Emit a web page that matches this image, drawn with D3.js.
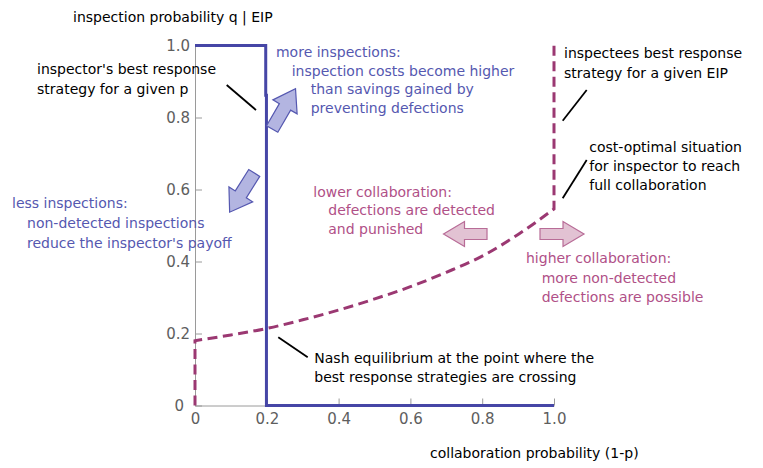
<!DOCTYPE html>
<html>
<head>
<meta charset="utf-8">
<script src="https://cdn.jsdelivr.net/npm/d3@7"></script>
<style>
  body { margin: 0; background: #fff; }
  svg { display: block; }
  text { font-family: "DejaVu Sans", sans-serif; }
</style>
</head>
<body>
<svg id="chart" width="763" height="468"></svg>
<script>
// Axis ticks
const xTicks = [0, 0.2, 0.4, 0.6, 0.8, 1.0];
const xTickLabels = ["0", "0.2", "0.4", "0.6", "0.8", "1.0"];
const yTicks = [0, 0.2, 0.4, 0.6, 0.8, 1.0];
const yTickLabels = ["0", "0.2", "0.4", "0.6", "0.8", "1.0"];
const minorTicks = [0.05, 0.1, 0.15, 0.25, 0.3, 0.35, 0.45, 0.5, 0.55, 0.65, 0.7, 0.75, 0.85, 0.9, 0.95];

// Inspector's best response (step function)
const inspectorP = [0, 0.197, 0.197, 0.199, 0.199, 1];
const inspectorQ = [1, 1, 0.862, 0.862, 0, 0];

// Inspectee's best response: vertical at p=0, rising curve, vertical at p=1
const inspecteeP = [0, 0, 0.1, 0.2, 0.3, 0.4, 0.5, 0.6, 0.7, 0.8, 0.9, 1, 1];
const inspecteeQ = [0, 0.18, 0.196, 0.214, 0.238, 0.265, 0.296, 0.330, 0.370, 0.415, 0.475, 0.546, 1];

const xTitle = "collaboration probability (1-p)";
const yTitle = "inspection probability q | EIP";

const blueLine = "#4646a6", magentaLine = "#9b3872";
const blueText = "#5558b0", pinkText = "#b05087", black = "#000";

const svg = d3.select("#chart");
const x = d3.scaleLinear().domain([0, 1]).range([195, 554]);
const y = d3.scaleLinear().domain([0, 1]).range([405.5, 45.5]);

// ---- axes ----
const axisColor = "#9a9a9a", labelColor = "#5e5e5e";
const gx = svg.append("g").attr("transform", `translate(0,${y(0)})`);
gx.call(d3.axisBottom(x).tickValues(minorTicks).tickSize(-4).tickSizeOuter(0).tickFormat(""));
gx.call(d3.axisBottom(x).tickValues(xTicks).tickSize(-7).tickSizeOuter(0).tickPadding(8)
  .tickFormat((d, i) => xTickLabels[i]));
const gy = svg.append("g").attr("transform", `translate(${x(0)},0)`);
gy.call(d3.axisLeft(y).tickValues(minorTicks).tickSize(-4).tickSizeOuter(0).tickFormat(""));
gy.call(d3.axisLeft(y).tickValues(yTicks).tickSize(-7).tickSizeOuter(0).tickPadding(5)
  .tickFormat((d, i) => yTickLabels[i]));
gy.selectAll(".tick").filter(d => d === 0).select("text").attr("x", -11);
[gx, gy].forEach(g => {
  g.selectAll("path.domain").attr("stroke", axisColor);
  g.selectAll(".tick line").attr("stroke", axisColor);
  g.selectAll(".tick text").attr("fill", labelColor).style("font-size", "15px")
    .style("font-family", "DejaVu Sans, sans-serif");
});

svg.append("text").attr("x", 73).attr("y", 22).attr("fill", black)
  .style("font-size", "14px").text(yTitle);
svg.append("text").attr("x", 430).attr("y", 458).attr("fill", black)
  .style("font-size", "14px").text(xTitle);

// ---- best response curves ----
const inspectorPts = inspectorP.map((p, i) => [p, inspectorQ[i]]);
svg.append("path")
  .attr("d", d3.line().x(d => x(d[0])).y(d => y(d[1]))(inspectorPts))
  .attr("fill", "none").attr("stroke", blueLine).attr("stroke-width", 3);

const n = inspecteeP.length;
const pts = inspecteeP.map((p, i) => [p, inspecteeQ[i]]);
const smooth = d3.line().x(d => x(d[0])).y(d => y(d[1])).curve(d3.curveMonotoneX)(pts.slice(1, n - 1));
const dPath = `M${x(pts[0][0])},${y(pts[0][1])}L` + smooth.slice(1) +
  `L${x(pts[n - 1][0])},${y(pts[n - 1][1])}`;
svg.append("path").attr("d", dPath)
  .attr("fill", "none").attr("stroke", magentaLine).attr("stroke-width", 3)
  .attr("stroke-dasharray", "10,5.5");

// ---- block arrows ----
function arrow(tail, tip, fill, stroke, w, h, L) {
  const x0 = x(tail[0]), y0 = y(tail[1]), x1 = x(tip[0]), y1 = y(tip[1]);
  const len = Math.hypot(x1 - x0, y1 - y0);
  const ux = (x1 - x0) / len, uy = (y1 - y0) / len, nx = -uy, ny = ux;
  const bx = x1 - ux * L, by = y1 - uy * L;
  const poly = [
    [x0 + nx * w, y0 + ny * w], [bx + nx * w, by + ny * w], [bx + nx * h, by + ny * h],
    [x1, y1],
    [bx - nx * h, by - ny * h], [bx - nx * w, by - ny * w], [x0 - nx * w, y0 - ny * w]
  ];
  svg.append("polygon").attr("points", poly.map(p => p.join(",")).join(" "))
    .attr("fill", fill).attr("stroke", stroke).attr("stroke-width", 1.2);
}
arrow([0.2150, 0.7680], [0.2800, 0.8800], "#b3b5e1", "#5558b0", 6.5, 14, 21);
arrow([0.1650, 0.6460], [0.0965, 0.5370], "#b3b5e1", "#5558b0", 6.5, 14, 21);
arrow([0.8134, 0.4764], [0.6922, 0.4764], "#e2c2d3", "#b86c97", 5.5, 12.5, 21);
arrow([0.9610, 0.4764], [1.0836, 0.4764], "#e2c2d3", "#b86c97", 5.5, 12.5, 21);

// ---- leader lines ----
const leaders = [
  [[0.0883, 0.8903], [0.1699, 0.8208]],
  [[1.0911, 0.8764], [1.0242, 0.7911]],
  [[1.0911, 0.6819], [1.0242, 0.5756]],
  [[0.2320, 0.1894], [0.3139, 0.1339]]
];
leaders.forEach(([a, b]) => {
  svg.append("line").attr("x1", x(a[0])).attr("y1", y(a[1]))
    .attr("x2", x(b[0])).attr("y2", y(b[1]))
    .attr("stroke", black).attr("stroke-width", 1.8);
});

// ---- annotation text blocks ----
const notes = [
  { p: -0.440, q: 0.9208, color: black, gap: 19.5, indent: [0, 0],
    lines: ["inspector's best response", "strategy for a given p"] },
  { p: 0.2256, q: 0.9689, color: blueText, gap: 18.9, indent: [0, 15.7, 34.7, 34.7],
    lines: ["more inspections:", "inspection costs become higher", "than savings gained by", "preventing defections"] },
  { p: -0.5097, q: 0.5478, color: blueText, gap: 20, indent: [0, 15, 15],
    lines: ["less inspections:", "non-detected inspections", "reduce the inspector's payoff"] },
  { p: 1.0279, q: 0.9644, color: black, gap: 20, indent: [0, 0],
    lines: ["inspectees best response", "strategy for a given EIP"] },
  { p: 1.0983, q: 0.7042, color: black, gap: 18.8, indent: [0, 0, 0],
    lines: ["cost-optimal situation", "for inspector to reach", "full collaboration"] },
  { p: 0.3295, q: 0.58, color: pinkText, gap: 18.7, indent: [0, 15, 15],
    lines: ["lower collaboration:", "defections are detected", "and punished"] },
  { p: 0.922, q: 0.395, color: pinkText, gap: 19.2, indent: [0, 15.7, 15.7],
    lines: ["higher collaboration:", "more non-detected", "defections are possible"] },
  { p: 0.3323, q: 0.1189, color: black, gap: 19, indent: [0, 0],
    lines: ["Nash equilibrium at the point where the", "best response strategies are crossing"] }
];
notes.forEach(nt => {
  const t = svg.append("text").attr("fill", nt.color).style("font-size", "14px");
  nt.lines.forEach((ln, i) => {
    t.append("tspan").attr("x", x(nt.p) + nt.indent[i]).attr("y", y(nt.q) + i * nt.gap).text(ln);
  });
});
</script>
</body>
</html>
